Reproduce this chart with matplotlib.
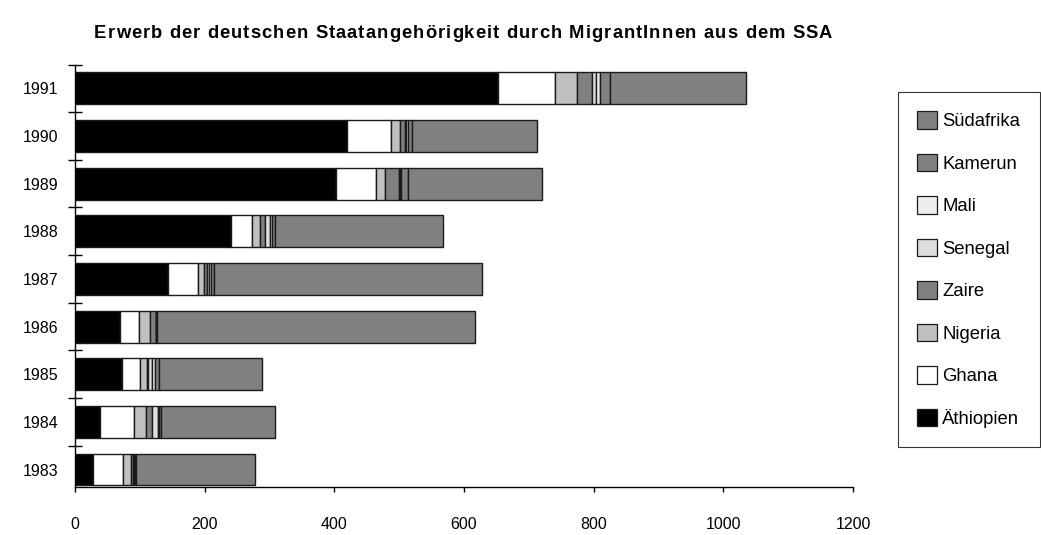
import matplotlib
matplotlib.use("Agg")
import matplotlib.pyplot as plt
from matplotlib.patches import Patch
from matplotlib.font_manager import FontProperties, findfont, get_font
import numpy as np

plt.rcParams['font.family'] = ['Liberation Sans', 'DejaVu Sans']

title = "Erwerb der deutschen Staatangehörigkeit durch MigrantInnen aus dem SSA"
years = ["1983", "1984", "1985", "1986", "1987", "1988", "1989", "1990", "1991"]
countries = ["Äthiopien", "Ghana", "Nigeria", "Zaire", "Senegal", "Mali", "Kamerun", "Südafrika"]
colors = ["#000000", "#ffffff", "#c0c0c0", "#808080", "#dddddd", "#eeeeee", "#808080", "#808080"]

aethiopien = [27, 38, 73, 70, 143, 240, 402, 420, 653]
ghana      = [47, 53, 27, 29, 46, 33, 63, 68, 87]
nigeria    = [12, 19, 11, 16, 10, 12, 13, 13, 35]
zaire      = [3, 9, 2, 10, 5, 8, 21, 8, 23]
senegal    = [2, 9, 5, 0, 3, 7, 2, 2, 6]
mali       = [1, 1, 6, 0, 3, 4, 2, 2, 6]
kamerun    = [2, 4, 6, 1, 4, 5, 10, 7, 15]
suedafrika = [183, 176, 158, 491, 413, 259, 207, 193, 210]

series = [aethiopien, ghana, nigeria, zaire, senegal, mali, kamerun, suedafrika]

W, H = 1041, 535
fig = plt.figure(figsize=(W / 100, H / 100), dpi=100)
ax = fig.add_axes([75 / W, 1 - 487 / H, (853 - 75) / W, (487 - 64.5) / H])

y = np.arange(len(years))
left = np.zeros(len(years))
for vals, col, name in zip(series, colors, countries):
    ax.barh(y, vals, left=left, height=0.67, color=col, edgecolor="#1a1a1a",
            linewidth=1.0, label=name)
    left += np.array(vals)

ax.set_xlim(0, 1200)
ax.set_ylim(-0.367, len(years) - 0.5)
ax.set_xticks(np.arange(0, 1201, 200))
ax.set_yticks(y)
ax.set_yticklabels(years)
ax.set_yticks(np.arange(0.5, len(years), 1.0), minor=True)

for s in ["top", "right"]:
    ax.spines[s].set_visible(False)
ax.spines["left"].set_linewidth(1.0)
ax.spines["bottom"].set_linewidth(1.0)

ax.tick_params(axis="y", which="major", length=0, pad=12, labelsize=11.5)
ax.tick_params(axis="y", which="minor", direction="inout", length=10, width=1.0)
ax.tick_params(axis="x", which="major", direction="out", length=3.6, width=1.0,
               labelsize=11.5, pad=18)

# Title, set glyph by glyph with a little extra tracking
title_size = 13.2
props = FontProperties(family="Liberation Sans", weight="bold", size=title_size)
ft = get_font(findfont(props))
ft.set_size(title_size, 100)
advances = [ft.load_char(ord(ch)).linearHoriAdvance / 65536.0 for ch in title]
title_width = 738.0
tracking = (title_width - sum(advances)) / (len(title) - 1)
x_px = 463.0 - title_width / 2
for ch, adv in zip(title, advances):
    fig.text(x_px / W, 1 - 38 / H, ch, fontproperties=props,
             ha="left", va="baseline")
    x_px += adv + tracking

handles = [Patch(facecolor=c, edgecolor="#1a1a1a", linewidth=0.9) for c in colors]
leg = fig.legend(handles[::-1], countries[::-1], loc="upper left",
                 bbox_to_anchor=(898 / W, 1 - 92 / H), fontsize=13.3,
                 frameon=True, fancybox=False, edgecolor="#000000",
                 labelspacing=1.28, handlelength=1.05, handleheight=1.05,
                 handletextpad=0.3, borderpad=1.05, borderaxespad=0)
leg.get_frame().set_linewidth(0.8)

fig.savefig("out.png", dpi=100)
